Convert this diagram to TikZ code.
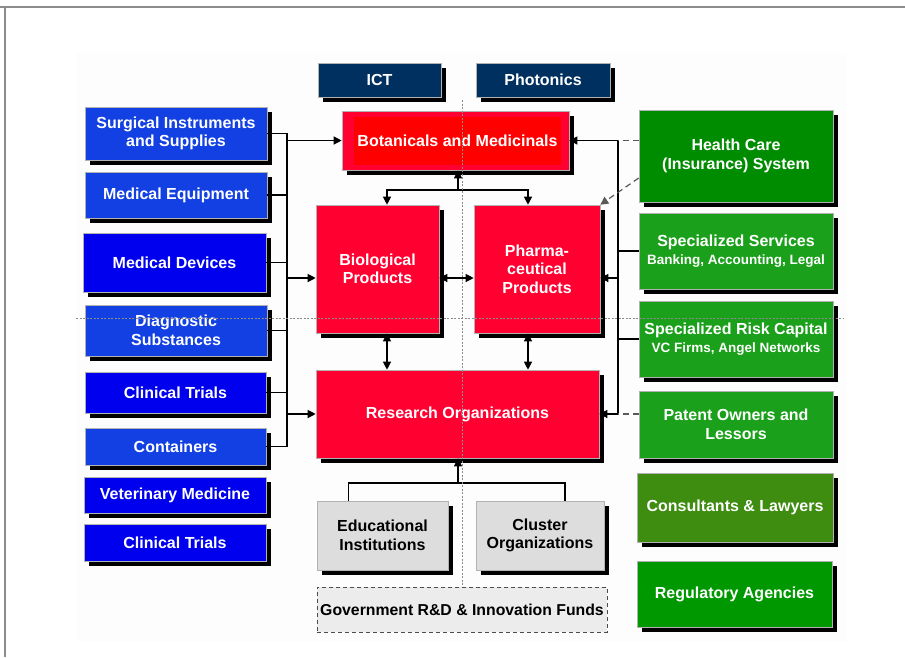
\documentclass[tikz,border=0pt]{standalone}
\usepackage{fontspec}
\setmainfont{Liberation Sans}
\usepackage{tikz}
\usetikzlibrary{arrows.meta}
\usetikzlibrary{shadows}
\definecolor{ictnavy}{RGB}{0,48,96}
\definecolor{royal}{RGB}{18,64,226}
\definecolor{pureblue}{RGB}{0,0,238}
\definecolor{crimson}{RGB}{255,0,48}
\definecolor{darkgr}{RGB}{0,140,0}
\definecolor{midgr}{RGB}{26,160,26}
\definecolor{olivegr}{RGB}{62,140,16}
\definecolor{reggr}{RGB}{0,152,0}
\definecolor{lightgr}{RGB}{221,221,221}
\definecolor{govgr}{RGB}{236,236,236}
\definecolor{panel}{RGB}{253,253,253}
\newcommand{\subline}[1]{{\fontsize{13.5}{16}\selectfont #1}}
\tikzset{
    >={Triangle[length=8pt,width=8pt]},
    box/.style={draw=black!30, line width=0.6pt, align=center, text=white,
        font=\bfseries\fontsize{16}{18.5}\selectfont, inner sep=2pt,
        drop shadow={shadow xshift=4.5pt, shadow yshift=-4.5pt, fill=black, opacity=1}},
    boxsize/.style 2 args={minimum width=#1pt, minimum height=#2pt},
    topbox/.style={box, fill=ictnavy},
    supplier/.style={box, fill=royal},
    supplierdark/.style={box, fill=pureblue},
    core/.style={box, fill=crimson},
    service/.style={box, fill=midgr},
    edubox/.style={box, fill=lightgr, text=black},
    fundbox/.style={draw=black!70, line width=0.8pt, dash pattern=on 4pt off 3pt,
        fill=govgr, text=black, font=\bfseries\fontsize{15.8}{18}\selectfont},
    link/.style={draw=black, line width=1.2pt},
    dashlink/.style={draw=black!65, line width=1.2pt, dash pattern=on 6pt off 4pt},
    guide/.style={draw=black!45, line width=0.6pt, dash pattern=on 2pt off 1.5pt}
}

\begin{document}
\begin{tikzpicture}[x=1pt,y=-1pt]
	\useasboundingbox (0,0) rectangle (905,657);
	\fill[panel] (77,53) rectangle (847,642);
	\draw[black!45, line width=1.5pt] (0,7) -- (905,7);
	\draw[black!45, line width=1.5pt] (5,7) -- (5,657);

	\node[topbox, boxsize={123}{34}] (ict) at (379.5,80) {ICT};
	\node[topbox, boxsize={134}{34}] (phot) at (543,80) {Photonics};

	\node[supplier, boxsize={182}{53}] (surg) at (176,133.5) {Surgical Instruments\\and Supplies};
	\node[supplier, boxsize={182}{46}] (medeq) at (176,195) {Medical Equipment};
	\node[supplierdark, boxsize={183}{59}] (meddev) at (174.5,262.5) {Medical Devices};
	\node[supplier, boxsize={182}{51}] (diag) at (176,330.5) {Diagnostic\\Substances};
	\node[supplierdark, boxsize={181}{41}] (clin) at (175.5,392.5) {Clinical Trials};
	\node[supplier, boxsize={181}{37}] (cont) at (175.5,446.5) {Containers};
	\node[supplierdark, boxsize={182}{36}] (vet) at (175,495) {Veterinary Medicine};
	\node[supplierdark, boxsize={182}{37}] (clintwo) at (175,542.5) {Clinical Trials};

	\node[core, boxsize={227}{59}] (bot) at (455.5,140.5) {};
	\node[fill=red, text=white, font=\bfseries\fontsize{16}{18.5}\selectfont,
		boxsize={195}{48}] (botlabel) at ([xshift=2pt]bot.center) {Botanicals and Medicinals};
	\node[core, boxsize={123}{128}] (bio) at (377.5,269) {Biological\\Products};
	\node[core, boxsize={126}{128}] (pharma) at (537,269) {Pharma-\\ceutical\\Products};
	\node[core, boxsize={283}{88}] (res) at (457.5,414) {Research Organizations};
	\node[edubox, boxsize={131}{69}] (edu) at (382.5,535.5) {Educational\\Institutions};
	\node[edubox, boxsize={128}{69}] (clus) at (540,535.5) {Cluster\\Organizations};
	\node[fundbox, boxsize={290}{45}] (gov) at (462,609.5) {Government R\&D \& Innovation Funds};

	\node[box, fill=darkgr, boxsize={194}{92}] (health) at (736,156) {Health Care\\(Insurance) System};
	\node[service, boxsize={194}{76}] (serv) at (736,251) {Specialized Services\\\subline{Banking, Accounting, Legal}};
	\node[service, boxsize={194}{76}] (risk) at (736,339) {Specialized Risk Capital\\\subline{VC Firms, Angel Networks}};
	\node[service, boxsize={194}{67}] (patent) at (736,424.5) {Patent Owners and\\Lessors};
	\node[box, fill=olivegr, boxsize={196}{69}] (cons) at (735,507.5) {Consultants \& Lawyers};
	\node[box, fill=reggr, boxsize={195}{66}] (reg) at (734.5,594) {Regulatory Agencies};

	% suppliers
	\coordinate (lbus) at (287,133.5);
	\coordinate (bioin) at ([yshift=-9pt]bio.west);
	\draw[link] (surg.east) -| (lbus |- cont.east) -- (cont.east);
	\foreach \n in {medeq,meddev,diag,clin}
		\draw[link] (\n.east) -- (\n.east -| lbus);
	\draw[link,->] (lbus |- bot.west) -- (bot.west);
	\draw[link,->] (lbus |- bioin) -- (bioin);
	\draw[link,->] (lbus |- res.west) -- (res.west);

	% core
	\coordinate (tj) at (458,190);
	\coordinate (biotop) at ([xshift=9.5pt]bio.north);
	\coordinate (phtop) at ([xshift=-9pt]pharma.north);
	\coordinate (bioout) at ([yshift=-9pt]bio.east);
	\coordinate (phin) at ([yshift=-9pt]pharma.west);
	\coordinate (phright) at ([yshift=-9pt]pharma.east);
	\draw[link,->] (tj) -- (tj |- bot.south);
	\draw[link,->] (tj) -| (biotop);
	\draw[link,->] (tj) -| (phtop);
	\draw[link,<->] (bioout) -- (phin);
	\draw[link,<->] (biotop |- bio.south) -- (biotop |- res.north);
	\draw[link,<->] (phtop |- pharma.south) -- (phtop |- res.north);

	% services
	\coordinate (rbus) at (618,142);
	\draw[link] (rbus |- bot.east) -- (rbus |- res.east);
	\draw[link,->] (rbus |- bot.east) -- (bot.east);
	\draw[link,->] (rbus |- phright) -- (phright);
	\draw[link,->] (rbus |- res.east) -- (res.east);
	\draw[dashlink] (health.west |- bot.east) -- (rbus |- bot.east);
	\draw[dashlink,->] ([yshift=-22pt]health.west) -- (pharma.north east);
	\draw[link] (serv.west) -- (serv.west -| rbus);
	\draw[link] (risk.west) -- (risk.west -| rbus);
	\draw[dashlink] (patent.west |- res.east) -- (rbus |- res.east);

	% education
	\coordinate (bj) at (458,483);
	\draw[link] ([xshift=-34pt]edu.north) |- (bj) -| ([xshift=25pt]clus.north);
	\draw[link,->] (bj) -- (bj |- res.south);

	\draw[guide] (76,318) -- (843,318);
	\draw[guide] (462,100) -- (462,585);
\end{tikzpicture}
\end{document}
